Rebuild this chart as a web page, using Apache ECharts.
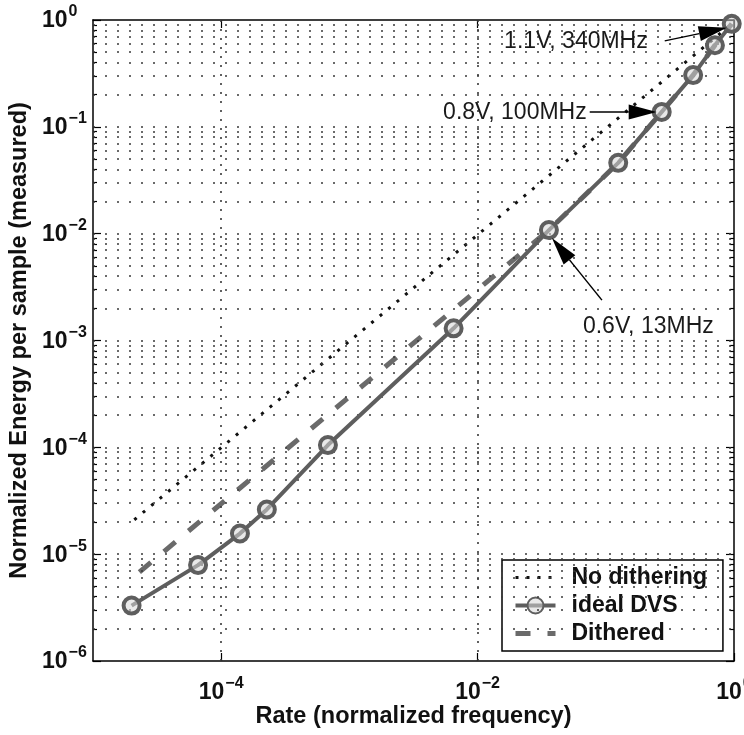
<!DOCTYPE html>
<html>
<head>
<meta charset="utf-8">
<script src="https://cdn.jsdelivr.net/npm/echarts@6/dist/echarts.min.js"></script>
<style>
  html, body { margin: 0; background: #fff; }
  #chart { width: 744px; height: 735px; }
</style>
</head>
<body>
<div id="chart"></div>
<script>
// values (log-log)
const dvsRate = [2.0e-5, 6.6e-5, 1.4e-4, 2.27e-4, 6.8e-4, 6.5e-3, 0.036, 0.125, 0.273, 0.48, 0.71, 0.96];
const dvsEnergy = [3.3e-6, 7.9e-6, 1.56e-5, 2.62e-5, 1.05e-4, 1.3e-3, 0.0108, 0.046, 0.138, 0.305, 0.58, 0.92];
const ditherRate = [2.3e-5, 0.036, 0.125, 0.273, 0.48, 0.71, 0.96];
const ditherEnergy = [6.8e-6, 0.0108, 0.046, 0.138, 0.305, 0.58, 0.92];
const noDitherRate = [2.1e-5, 0.96];
const noDitherEnergy = [2.1e-5, 0.92];

const seriesNames = ['No dithering', 'ideal DVS', 'Dithered'];
const xTicks = [1e-4, 1e-2, 1];
const yTicks = [1e-6, 1e-5, 1e-4, 1e-3, 1e-2, 1e-1, 1];
const minorSteps = [2, 3, 4, 5, 6, 7, 8, 9];

// annotated operating points (index into dvs arrays)
const notes = [
  { text: '1.1V, 340MHz', point: 11 },
  { text: '0.8V, 100MHz', point: 8 },
  { text: '0.6V, 13MHz', point: 6 }
];

const FONT = '"Liberation Sans", Arial, Helvetica, sans-serif';

const yMinor = [];
yTicks.slice(0, -1).forEach(d => minorSteps.forEach(m => yMinor.push(d * m)));

const zip = (xs, ys) => xs.map((x, i) => [x, ys[i]]);

// "10" with a raised exponent: exponent on a thin first line, hidden copies keep both lines the same width
const powLabel = v => {
  const e = Math.round(Math.log10(v));
  const sup = e < 0 ? '\u2212' + (-e) : String(e);
  return '{hb|10}{s|' + sup + '}\n{b|10}{hs|' + sup + '}';
};
const baseTxt = { fontFamily: FONT, fontWeight: 'bold', fontSize: 23, color: '#111', lineHeight: 16 };
const supTxt = { fontFamily: FONT, fontWeight: 'bold', fontSize: 16, color: '#111', lineHeight: 2, padding: [0, 0, 0, 1] };
const labelRich = {
  b: baseTxt,
  hb: Object.assign({}, baseTxt, { color: 'rgba(0,0,0,0)', lineHeight: 2 }),
  s: supTxt,
  hs: Object.assign({}, supTxt, { color: 'rgba(0,0,0,0)', lineHeight: 16 })
};

const blackLine = { show: true, lineStyle: { color: '#000', width: 1.5 } };

function tickAxis(position, values, len, withLine) {
  return {
    type: 'log', logBase: 10, position: position,
    axisLine: withLine ? blackLine : { show: false },
    axisTick: { show: true, inside: true, length: len, customValues: values, lineStyle: { color: '#000', width: 1.2 } },
    axisLabel: { show: false },
    splitLine: { show: false },
    minorTick: { show: false }
  };
}

const titleStyle = { fontFamily: FONT, fontWeight: 'bold', fontSize: 23.5, color: '#111' };

const xMain = Object.assign(tickAxis('bottom', xTicks, 8, true), {
  min: 1e-5, max: 1,
  axisLabel: { show: true, customValues: xTicks, formatter: powLabel, rich: labelRich, margin: 22 },
  name: 'Rate (normalized frequency)',
  nameLocation: 'middle', nameGap: 44, nameMoveOverlap: false,
  nameTextStyle: titleStyle
});
const xTop = Object.assign(tickAxis('top', xTicks, 8, true), { min: 1e-5, max: 1 });

const yMain = Object.assign(tickAxis('left', yTicks, 8, true), {
  min: 1e-6, max: 1,
  axisLabel: { show: true, customValues: yTicks, formatter: powLabel, rich: labelRich, margin: 51, align: 'left' },
  name: 'Normalized Energy per sample (measured)',
  nameLocation: 'middle', nameGap: 61, nameRotate: 90, nameMoveOverlap: false,
  nameTextStyle: titleStyle
});
const yAxes = [
  yMain,
  Object.assign(tickAxis('left', yMinor, 4, false), { min: 1e-6, max: 1 }),
  Object.assign(tickAxis('right', yTicks, 8, true), { min: 1e-6, max: 1 }),
  Object.assign(tickAxis('right', yMinor, 4, false), { min: 1e-6, max: 1 })
];

const gridDots = { color: '#3a3a3a', width: 1.6, type: [2, 10] };
const hideSymbol = { color: 'rgba(0,0,0,0)', borderColor: 'rgba(0,0,0,0)', borderWidth: 0 };

const chart = echarts.init(document.getElementById('chart'), null, { renderer: 'canvas' });

chart.setOption({
  animation: false,
  backgroundColor: '#fff',
  grid: { left: 93, right: 10, top: 20, bottom: 74, outerBoundsMode: 'none', containLabel: false },
  xAxis: [xMain, xTop],
  yAxis: yAxes,
  legend: {
    data: [
      { name: seriesNames[0], itemStyle: hideSymbol },
      { name: seriesNames[1] },
      { name: seriesNames[2], itemStyle: hideSymbol }
    ],
    orient: 'vertical',
    left: 502, top: 560,
    padding: [6, 16, 6, 11],
    itemGap: 5,
    itemWidth: 40, itemHeight: 20,
    backgroundColor: '#fff',
    borderColor: '#000', borderWidth: 1.5, borderRadius: 0,
    lineStyle: { width: 'inherit' },
    textStyle: { fontFamily: FONT, fontWeight: 'bold', fontSize: 23, color: '#111', padding: [0, 0, 0, 11] }
  },
  series: [
    {
      name: 'grid', type: 'line', data: [], silent: true, z: 1,
      markLine: {
        silent: true, symbol: ['none', 'none'], animation: false, precision: 12,
        label: { show: false },
        lineStyle: gridDots,
        data: yMinor.concat(yTicks.slice(1, -1)).map(v => ({ yAxis: v }))
          .concat(xTicks.slice(0, -1).map(v => ({ xAxis: v, lineStyle: { color: '#3a3a3a', width: 1.6, type: [2, 7] } })))
      }
    },
    {
      name: seriesNames[0], type: 'line', z: 3,
      data: zip(noDitherRate, noDitherEnergy),
      showSymbol: false, symbol: 'none',
      lineStyle: { color: '#111', width: 3, type: [3, 8] },
      itemStyle: { color: '#111' }
    },
    {
      name: seriesNames[2], type: 'line', z: 4,
      data: zip(ditherRate, ditherEnergy),
      showSymbol: false, symbol: 'none',
      lineStyle: { color: '#6a6a6a', width: 5, type: [15, 17] },
      itemStyle: { color: '#6a6a6a' }
    },
    {
      name: seriesNames[1], type: 'line', z: 5,
      data: zip(dvsRate, dvsEnergy),
      symbol: 'circle', symbolSize: 16,
      lineStyle: { color: '#5e5e5e', width: 4 },
      itemStyle: { color: 'rgba(215,215,215,0.55)', borderColor: '#5e5e5e', borderWidth: 4 }
    }
  ]
});

// arrows with text, anchored to the operating points
function arrowParts(tail, tip, len, wid) {
  const dx = tip[0] - tail[0], dy = tip[1] - tail[1];
  const d = Math.hypot(dx, dy);
  const ux = dx / d, uy = dy / d;
  const bx = tip[0] - ux * len, by = tip[1] - uy * len;
  const nx = -uy * wid / 2, ny = ux * wid / 2;
  return [
    { type: 'line', shape: { x1: tail[0], y1: tail[1], x2: bx, y2: by }, style: { stroke: '#000', lineWidth: 1.5 }, z: 20 },
    { type: 'polygon', shape: { points: [tip, [bx + nx, by + ny], [bx - nx, by - ny]] }, style: { fill: '#000' }, z: 20 }
  ];
}

const layout = [
  { tip: [-5, 4], tail: [-67, 17], text: [-84, 18], align: 'right' },
  { tip: [-5, 0], tail: [-72, 0], text: [-75, 1], align: 'right' },
  { tip: [3, 8], tail: [53, 70], text: [34, 97], align: 'left' }
];

const elements = [];
notes.forEach((n, i) => {
  const p = chart.convertToPixel({ gridIndex: 0 }, [dvsRate[n.point], dvsEnergy[n.point]]);
  const L = layout[i];
  const at = o => [p[0] + o[0], p[1] + o[1]];
  arrowParts(at(L.tail), at(L.tip), 28, 15).forEach(e => elements.push(e));
  const t = at(L.text);
  elements.push({
    type: 'text', x: t[0], y: t[1], z: 20,
    style: {
      text: n.text, fill: '#1a1a1a',
      font: '23px ' + FONT,
      align: L.align, textAlign: L.align,
      verticalAlign: 'middle', textVerticalAlign: 'middle'
    }
  });
});

chart.setOption({ graphic: { elements: elements } });
</script>
</body>
</html>
